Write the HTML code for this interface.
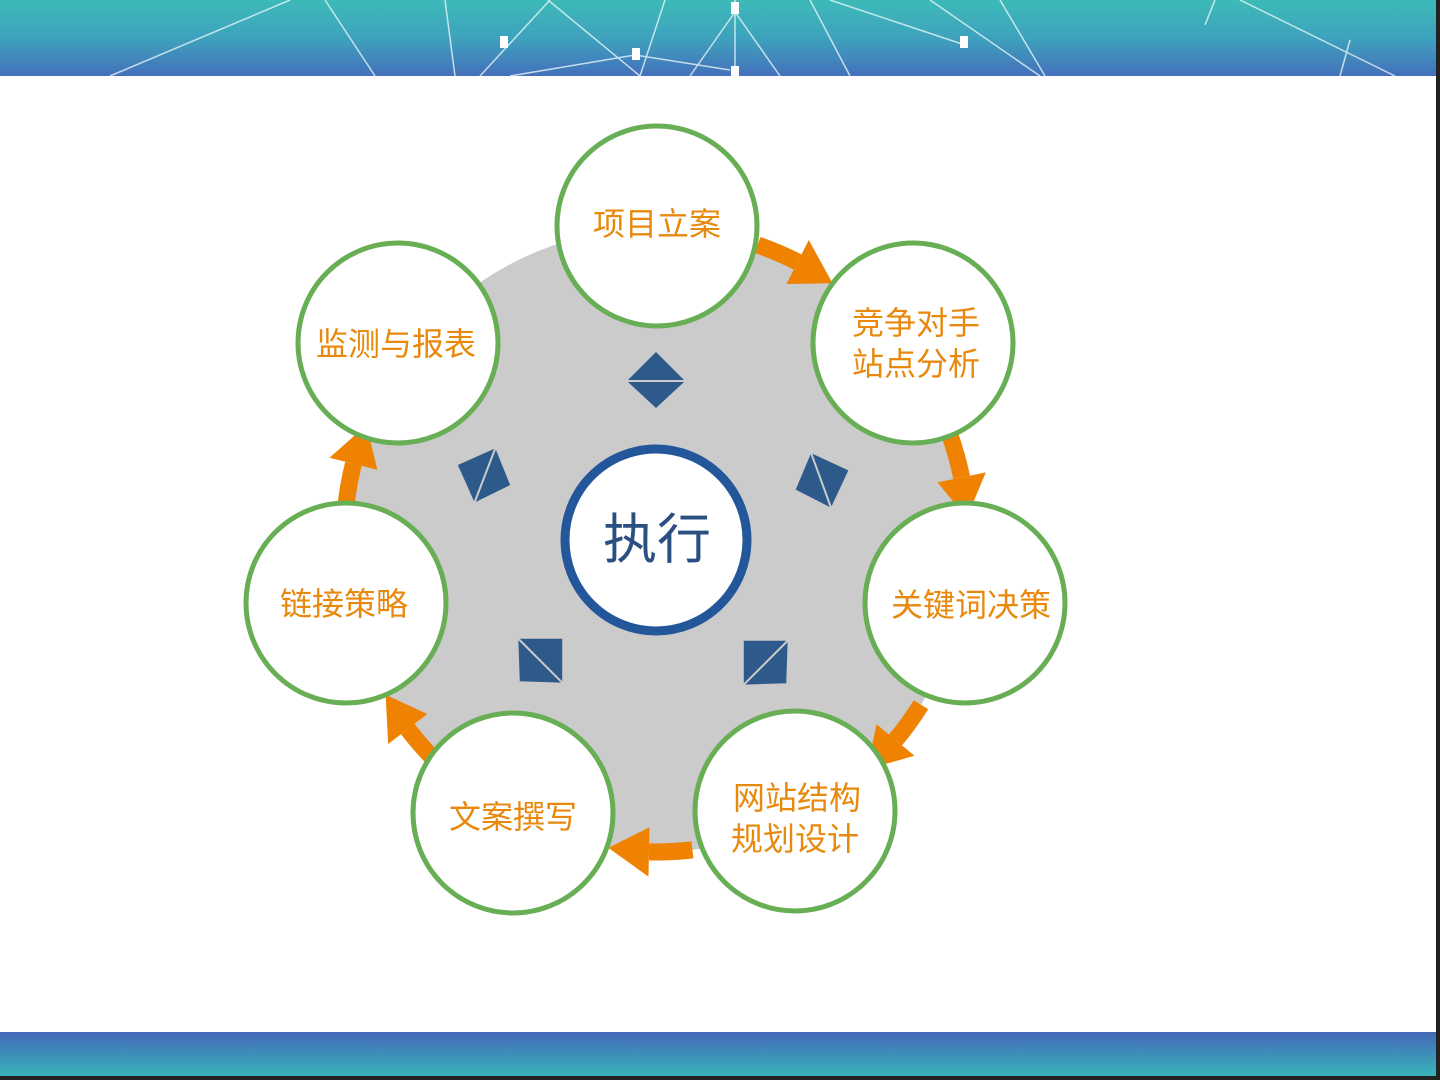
<!DOCTYPE html>
<html><head><meta charset="utf-8"><style>
html,body{margin:0;padding:0;width:1440px;height:1080px;overflow:hidden;background:#fff}
svg{display:block}
</style></head><body>
<svg width="1440" height="1080" viewBox="0 0 1440 1080" xmlns="http://www.w3.org/2000/svg">
<defs>
<linearGradient id="top" x1="0" y1="0" x2="0" y2="1">
<stop offset="0" stop-color="#3dbab8"/><stop offset="0.5" stop-color="#3ea2bd"/><stop offset="1" stop-color="#4470bb"/>
</linearGradient>
<linearGradient id="bot" x1="0" y1="0" x2="0" y2="1">
<stop offset="0" stop-color="#4468b8"/><stop offset="1" stop-color="#38b4b8"/>
</linearGradient>
</defs>
<rect width="1440" height="1080" fill="#fff"/>
<rect x="0" y="0" width="1436" height="76" fill="url(#top)"/>
<g stroke="#e6f6f8" stroke-width="1.5" opacity="0.8" fill="none">
<line x1="290" y1="0" x2="110" y2="76"/><line x1="325" y1="0" x2="375" y2="76"/>
<line x1="445" y1="0" x2="455" y2="76"/><line x1="550" y1="0" x2="480" y2="76"/>
<line x1="548" y1="0" x2="640" y2="76"/><line x1="665" y1="0" x2="640" y2="76"/>
<line x1="735" y1="0" x2="735" y2="76"/><line x1="735" y1="12" x2="690" y2="76"/>
<line x1="735" y1="12" x2="780" y2="76"/><line x1="810" y1="0" x2="850" y2="76"/>
<line x1="830" y1="0" x2="965" y2="45"/><line x1="930" y1="0" x2="1040" y2="76"/>
<line x1="1000" y1="0" x2="1045" y2="76"/><line x1="1215" y1="0" x2="1205" y2="25"/>
<line x1="1240" y1="0" x2="1395" y2="76"/><line x1="635" y1="55" x2="510" y2="76"/>
<line x1="635" y1="55" x2="730" y2="70"/><line x1="1350" y1="40" x2="1340" y2="76"/>
</g>
<g fill="#fff"><rect x="500" y="36" width="8" height="12"/><rect x="632" y="48" width="8" height="12"/><rect x="731" y="2" width="8" height="12"/><rect x="731" y="66" width="8" height="10"/><rect x="960" y="36" width="8" height="12"/></g>
<rect x="0" y="1032" width="1436" height="44" fill="url(#bot)"/>
<rect x="1436" y="0" width="4" height="1080" fill="#222"/>
<rect x="0" y="1076" width="1440" height="4" fill="#222"/>

<circle cx="656" cy="540" r="312" fill="#cbcbcb"/>

<g id="arr" fill="#ef8200">
<path d="M757.6 245 A312 312 0 0 1 797.6 262" stroke="#ef8200" stroke-width="17" fill="none"/>
<polygon points="786.5,284 808.8,240 832.5,283.3"/>
</g>
<use href="#arr" transform="rotate(51.43 656 540)"/>
<use href="#arr" transform="rotate(102.86 656 540)"/>
<use href="#arr" transform="rotate(154.29 656 540)"/>
<use href="#arr" transform="rotate(205.71 656 540)"/>
<use href="#arr" transform="rotate(257.14 656 540)"/>

<g fill="#2d5a8a">
<g transform="translate(656,380)"><polygon points="0,-28 -28,0 28,0"/><polygon points="0,28 -28,2 28,2"/></g>
<g transform="translate(484,475) rotate(-69)"><polygon points="0,-28 -28,0 28,0"/><polygon points="0,28 -28,2 28,2"/></g>
<g transform="translate(822,480) rotate(70)"><polygon points="0,-28 -28,0 28,0"/><polygon points="0,28 -28,2 28,2"/></g>
<g transform="translate(541,660) rotate(45)"><polygon points="0,-30 -30,0 30,0"/><polygon points="0,30 -30,2 30,2"/></g>
<g transform="translate(765,662) rotate(-45)"><polygon points="0,-30 -30,0 30,0"/><polygon points="0,30 -30,2 30,2"/></g>
</g>

<circle cx="656" cy="540" r="91" fill="#fff" stroke="#23579a" stroke-width="9"/>
<text x="657" y="558" text-anchor="middle" font-family="Liberation Sans, Noto Sans CJK SC, sans-serif" font-size="54" fill="#2a4f80">执行</text>

<g fill="#fff" stroke="#68ae55" stroke-width="5">
<circle cx="657" cy="226" r="100"/>
<circle cx="913" cy="343" r="100"/>
<circle cx="965" cy="603" r="100"/>
<circle cx="795" cy="811" r="100"/>
<circle cx="513" cy="813" r="100"/>
<circle cx="346" cy="603" r="100"/>
<circle cx="398" cy="343" r="100"/>
</g>
<g font-family="Liberation Sans, Noto Sans CJK SC, sans-serif" font-size="32" fill="#e8880c" text-anchor="middle">
<text x="657" y="235">项目立案</text>
<text x="916" y="334">竞争对手</text>
<text x="916" y="375">站点分析</text>
<text x="971" y="616">关键词决策</text>
<text x="797" y="809">网站结构</text>
<text x="795" y="850">规划设计</text>
<text x="513" y="828">文案撰写</text>
<text x="344" y="615">链接策略</text>
<text x="396" y="355">监测与报表</text>
</g>
</svg>
</body></html>
